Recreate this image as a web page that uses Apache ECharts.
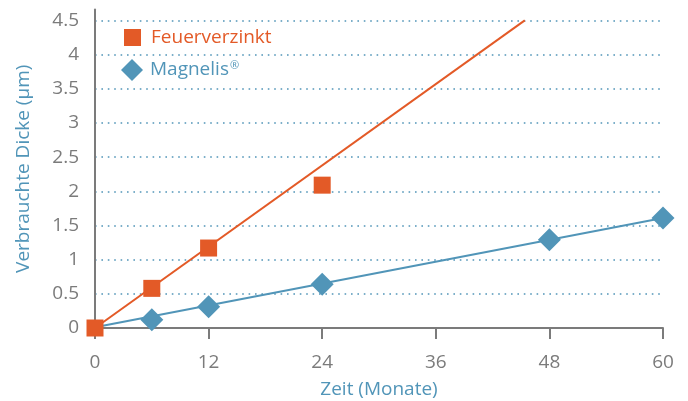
<!DOCTYPE html>
<html>
<head>
<meta charset="utf-8">
<script src="https://cdn.jsdelivr.net/npm/echarts@6/dist/echarts.min.js"></script>
<style>
  html, body { margin: 0; padding: 0; background: #fff; }
  #chart { width: 688px; height: 401px; }
</style>
</head>
<body>
<div id="chart"></div>
<script>
// months and measured thickness loss (µm)
const feuerMonths = [0, 6, 12, 24];
const feuerValues = [0, 0.58, 1.17, 2.09];
const magnelisMonths = [6, 12, 24, 48, 60];
const magnelisValues = [0.12, 0.31, 0.64, 1.29, 1.61];

// trend lines (start/end values)
const feuerTrend = [[0, 0], [45.4, 4.5]];
const magnelisTrend = [[0, 0.01], [60, 1.61]];

const xTicks = [0, 12, 24, 36, 48, 60];
const yTicks = [0, 0.5, 1, 1.5, 2, 2.5, 3, 3.5, 4, 4.5];

const orange = '#e35a27';
const blue = '#5195b8';
const gray = '#7b7b7b';
const fontFamily = '"Open Sans", sans-serif';

const chart = echarts.init(document.getElementById('chart'));

const toPairs = (xs, ys) => xs.map((x, i) => [x, ys[i]]);

const option = {
  animation: false,
  grid: { left: 95, right: 25, top: 9.5, bottom: 73, outerBoundsMode: 'none', containLabel: false },
  legend: [
    {
      data: ['Feuerverzinkt'],
      left: 124, top: 28, padding: 0,
      itemWidth: 17, itemHeight: 17,
      textStyle: { color: orange, fontSize: 19, fontFamily: fontFamily, padding: [0, 0, 0, 5] }
    },
    {
      data: ['Magnelis'],
      left: 121, top: 59, padding: 0,
      itemWidth: 22, itemHeight: 22,
      formatter: name => '{a|' + name + '}{sup|®}',
      textStyle: {
        color: blue, fontSize: 19, fontFamily: fontFamily, padding: [0, 0, 0, 2],
        rich: {
          a: { color: blue, fontSize: 19, fontFamily: fontFamily },
          sup: { color: blue, fontSize: 11, fontFamily: fontFamily, verticalAlign: 'top', padding: [0, 0, 8, 1] }
        }
      }
    }
  ],
  xAxis: {
    type: 'value',
    min: xTicks[0], max: xTicks[xTicks.length - 1], interval: 12,
    name: 'Zeit (Monate)',
    nameLocation: 'middle',
    nameGap: 52,
    nameTextStyle: { color: blue, fontSize: 19, fontFamily: fontFamily },
    axisLine: { lineStyle: { color: gray, width: 2 } },
    axisTick: { show: true, length: 11, lineStyle: { color: gray, width: 2 } },
    axisLabel: { color: gray, fontSize: 19, fontFamily: fontFamily, margin: 25 },
    splitLine: { show: false }
  },
  yAxis: {
    type: 'value',
    min: yTicks[0], max: 4.66, interval: 0.5,
    name: 'Verbrauchte Dicke (µm)',
    nameLocation: 'middle',
    nameGap: 62,
    nameTextStyle: { color: blue, fontSize: 19, fontFamily: fontFamily },
    axisLine: { show: true, lineStyle: { color: gray, width: 2 } },
    axisTick: { show: false },
    axisLabel: {
      color: gray, fontSize: 19, fontFamily: fontFamily, margin: 16,
      showMaxLabel: false,
      formatter: v => (yTicks.indexOf(v) >= 0 ? String(v) : '')
    },
    splitLine: {
      show: true, showMinLine: false, showMaxLine: false,
      lineStyle: { color: blue, width: 1.6, type: [1.6, 4.8] }
    }
  },
  series: [
    {
      name: 'Magnelis Trend', type: 'line', data: magnelisTrend,
      symbol: 'none', lineStyle: { color: blue, width: 2 }, z: 2
    },
    {
      name: 'Feuerverzinkt Trend', type: 'line', data: feuerTrend,
      symbol: 'none', lineStyle: { color: orange, width: 2 }, z: 2
    },
    {
      name: 'Magnelis', type: 'scatter', data: toPairs(magnelisMonths, magnelisValues),
      symbol: 'diamond', symbolSize: 23, itemStyle: { color: blue, opacity: 1 }, z: 3
    },
    {
      name: 'Feuerverzinkt', type: 'scatter', data: toPairs(feuerMonths, feuerValues),
      symbol: 'rect', symbolSize: 17, itemStyle: { color: orange, opacity: 1 }, z: 4
    }
  ]
};

chart.setOption(option);
</script>
</body>
</html>
